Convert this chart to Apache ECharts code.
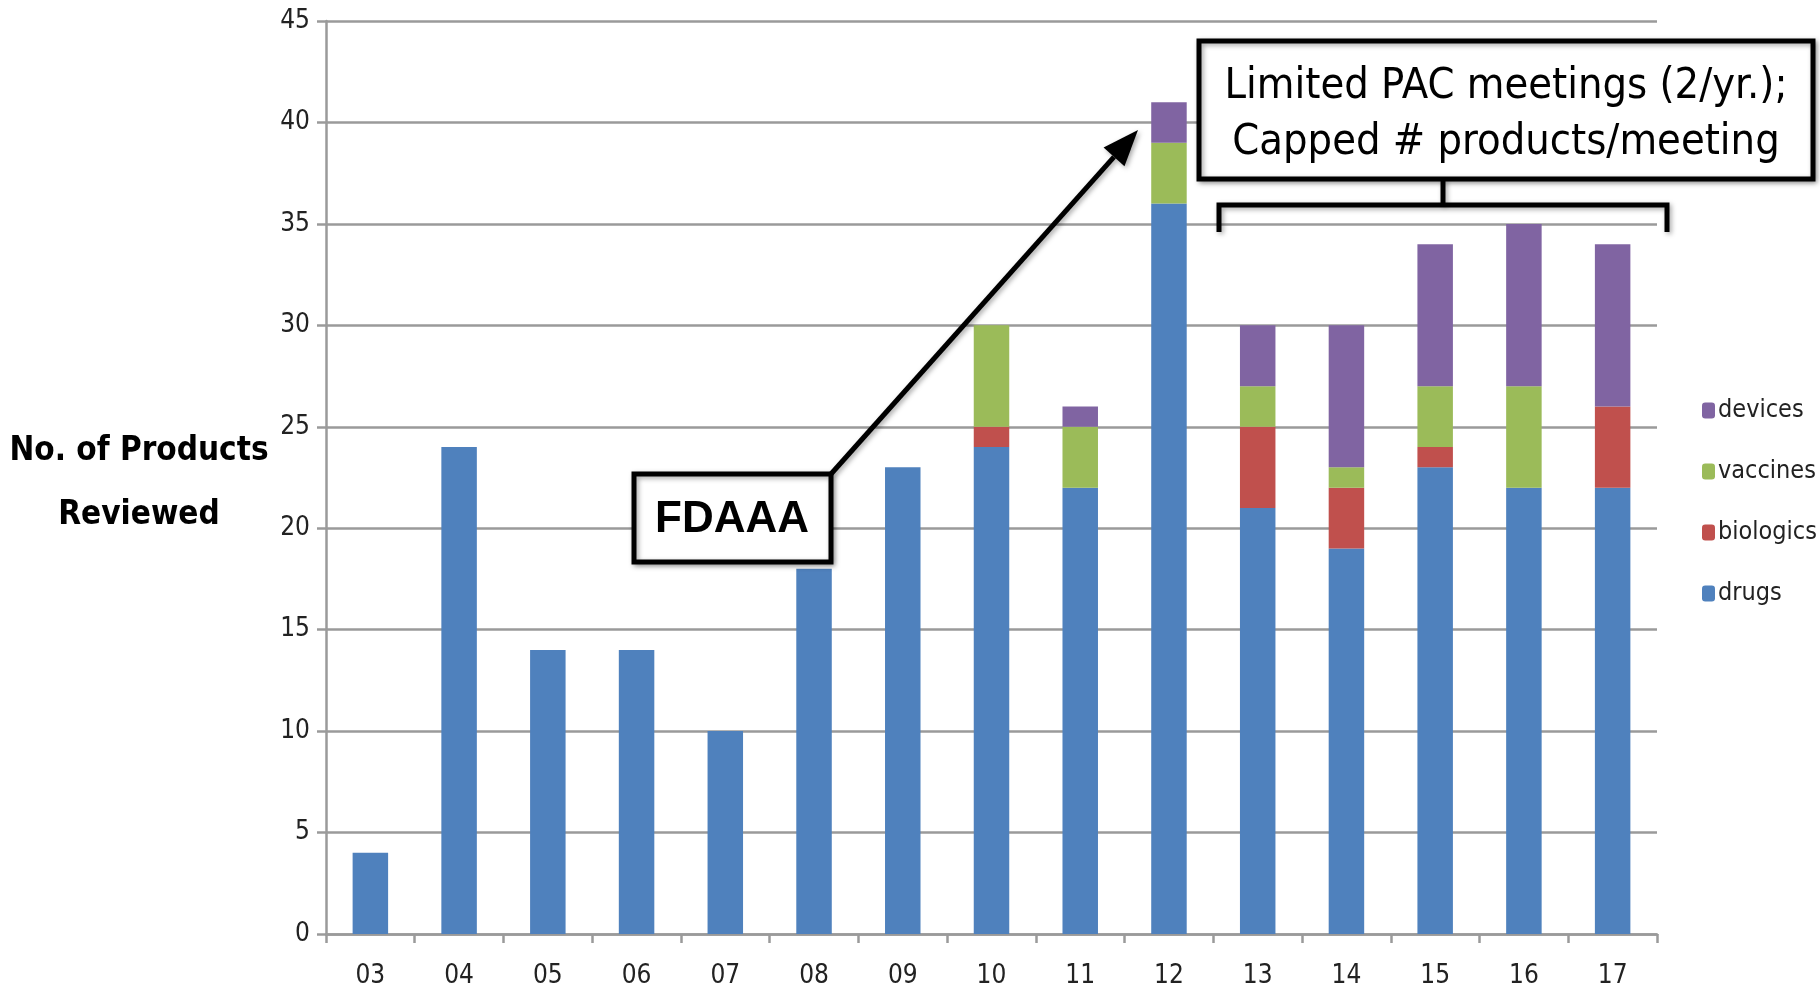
<!DOCTYPE html>
<html>
<head>
<meta charset="utf-8">
<title>Products reviewed</title>
<script src="https://cdn.jsdelivr.net/npm/echarts@6/dist/echarts.min.js"></script>
<style>
  html, body { margin: 0; padding: 0; background: #fff; }
  #main { width: 1820px; height: 991px; }
</style>
</head>
<body>
<div id="main"></div>
<script>
// data
var years = ['03', '04', '05', '06', '07', '08', '09', '10', '11', '12', '13', '14', '15', '16', '17'];
var drugs     = [4, 24, 14, 14, 10, 18, 23, 24, 22, 36, 21, 19, 23, 22, 22];
var biologics = [0, 0, 0, 0, 0, 0, 0, 1, 0, 0, 4, 3, 1, 0, 4];
var vaccines  = [0, 0, 0, 0, 0, 0, 0, 5, 3, 3, 2, 1, 3, 5, 0];
var devices   = [0, 0, 0, 0, 0, 0, 0, 0, 1, 2, 3, 7, 7, 8, 8];
var legendOrder = ['devices', 'vaccines', 'biologics', 'drugs'];

var FONT = '"DejaVu Sans Condensed", "Liberation Sans", sans-serif';
var GRAY = '#9a9a9a';
var shadow = { shadowBlur: 5, shadowColor: 'rgba(0,0,0,0.35)', shadowOffsetX: 2, shadowOffsetY: 2 };

var chart = echarts.init(document.getElementById('main'));

function bar(name, data, color) {
  return {
    name: name,
    type: 'bar',
    stack: 'total',
    data: data,
    barWidth: '40%',
    itemStyle: { color: color },
    emphasis: { disabled: true }
  };
}

// arrow from FDAAA box to the 2012 bar
var arrowFrom = [831, 474];
var arrowTo = [1138, 130];
var ang = Math.atan2(arrowTo[1] - arrowFrom[1], arrowTo[0] - arrowFrom[0]);
var headLen = 36, headW = 14;
var bx = arrowTo[0] - headLen * Math.cos(ang), by = arrowTo[1] - headLen * Math.sin(ang);
var px = -Math.sin(ang) * headW, py = Math.cos(ang) * headW;

var option = {
  animation: false,
  textStyle: { fontFamily: FONT },
  grid: { left: 326, right: 163, top: 21, bottom: 57 },
  legend: {
    orient: 'vertical',
    left: 1697,
    top: 393,
    data: legendOrder,
    itemWidth: 13,
    itemHeight: 16,
    itemGap: 36,
    selectedMode: false,
    textStyle: { fontFamily: FONT, fontSize: 25, color: '#222', padding: [0, 0, 0, -2] }
  },
  xAxis: {
    type: 'category',
    data: years,
    axisLine: { lineStyle: { color: GRAY, width: 2.5 } },
    axisTick: { show: true, length: 9, lineStyle: { color: GRAY, width: 2.5 } },
    axisLabel: { color: '#222', fontSize: 26, fontFamily: FONT, margin: 29 }
  },
  yAxis: {
    type: 'value',
    min: 0,
    max: 45,
    interval: 5,
    axisLine: { show: true, lineStyle: { color: GRAY, width: 2.5 } },
    axisTick: { show: true, length: 9, lineStyle: { color: GRAY, width: 2.5 } },
    splitLine: { lineStyle: { color: GRAY, width: 2.5 } },
    axisLabel: { color: '#222', fontSize: 26, fontFamily: FONT, margin: 16 }
  },
  series: [
    bar('drugs', drugs, '#4F81BD'),
    bar('biologics', biologics, '#C0504D'),
    bar('vaccines', vaccines, '#9BBB59'),
    bar('devices', devices, '#8064A2')
  ],
  graphic: [
    // y axis title
    {
      type: 'text', x: 139, y: 483,
      style: {
        text: 'No. of Products\nReviewed', fill: '#000', align: 'center', verticalAlign: 'middle',
        font: 'bold 33px ' + FONT, lineHeight: 64
      }
    },
    // arrow
    {
      type: 'line', z: 100,
      shape: { x1: arrowFrom[0], y1: arrowFrom[1], x2: bx, y2: by },
      style: Object.assign({ stroke: '#000', lineWidth: 5 }, shadow)
    },
    {
      type: 'polygon', z: 100,
      shape: { points: [arrowTo, [bx + px, by + py], [bx - px, by - py]] },
      style: Object.assign({ fill: '#000' }, shadow)
    },
    // FDAAA box
    {
      type: 'rect', z: 101,
      shape: { x: 634, y: 474, width: 197, height: 88 },
      style: Object.assign({ fill: '#fff', stroke: '#000', lineWidth: 5 }, shadow)
    },
    {
      type: 'text', z: 102, x: 732, y: 520,
      style: { text: 'FDAAA', fill: '#000', align: 'center', verticalAlign: 'middle', font: 'bold 44px "Liberation Sans", sans-serif' }
    },
    // bracket over 2013-2017
    {
      type: 'polyline', z: 100,
      shape: { points: [[1219, 232], [1219, 205], [1667, 205], [1667, 232]] },
      style: Object.assign({ stroke: '#000', lineWidth: 5, fill: null }, shadow)
    },
    {
      type: 'line', z: 100,
      shape: { x1: 1443, y1: 179, x2: 1443, y2: 205 },
      style: Object.assign({ stroke: '#000', lineWidth: 5 }, shadow)
    },
    // PAC box
    {
      type: 'rect', z: 101,
      shape: { x: 1199, y: 41, width: 614, height: 138 },
      style: Object.assign({ fill: '#fff', stroke: '#000', lineWidth: 5 }, shadow)
    },
    {
      type: 'text', z: 102, x: 1506, y: 115,
      style: {
        text: 'Limited PAC meetings (2/yr.);\nCapped # products/meeting', fill: '#000',
        align: 'center', verticalAlign: 'middle', lineHeight: 56,
        font: '43px ' + FONT
      }
    }
  ]
};

chart.setOption(option);
</script>
</body>
</html>
